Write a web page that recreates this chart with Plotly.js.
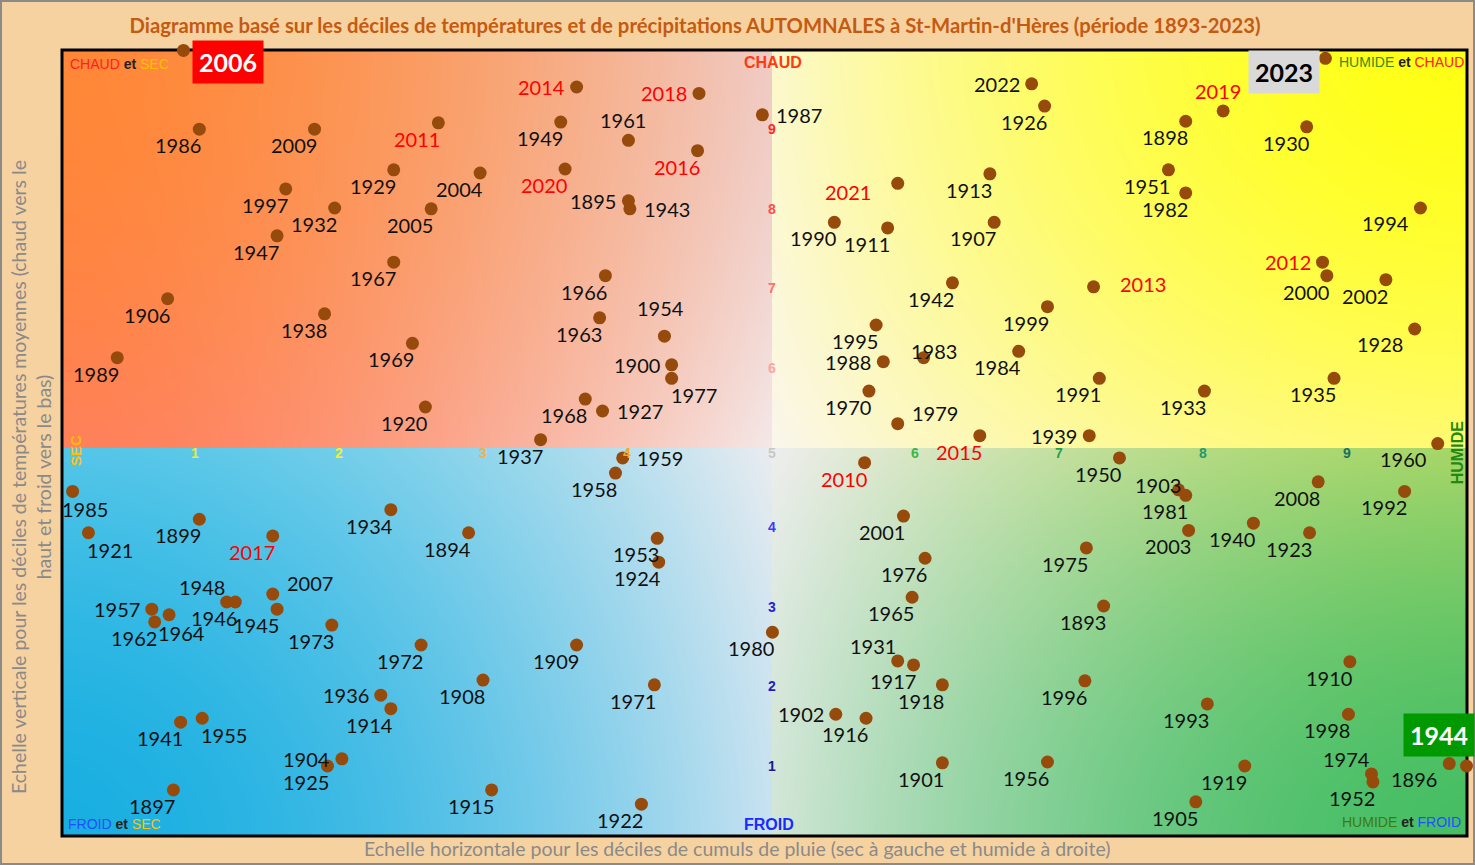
<!DOCTYPE html>
<html>
<head>
<meta charset="utf-8">
<script src="https://cdn.plot.ly/plotly-3.0.1.min.js"></script>
<style>
  html, body { margin: 0; padding: 0; background: #f6d2a0; }
  #chart { width: 1475px; height: 865px; }
</style>
</head>
<body>
<div id="chart"></div>
<script>
// années et déciles (pluie = horizontal, température = vertical)
var years = [1893,1894,1895,1896,1897,1898,1899,1900,1901,1902,1903,1904,1905,1906,1907,1908,1909,1910,1911,1912,
  1913,1914,1915,1916,1917,1918,1919,1920,1921,1922,1923,1924,1925,1926,1927,1928,1929,1930,1931,1932,
  1933,1934,1935,1936,1937,1938,1939,1940,1941,1942,1943,1944,1945,1946,1947,1948,1949,1950,1951,1952,
  1953,1954,1955,1956,1957,1958,1959,1960,1961,1962,1963,1964,1965,1966,1967,1968,1969,1970,1971,1972,
  1973,1974,1975,1976,1977,1978,1979,1980,1981,1982,1983,1984,1985,1986,1987,1988,1989,1990,1991,1992,
  1993,1994,1995,1996,1997,1998,1999,2000,2001,2002,2003,2004,2005,2006,2007,2008,2009,2010,2011,2012,
  2013,2014,2015,2016,2017,2018,2019,2020,2021,2022,2023];

var rainDecile = [7.31,2.90,4.01,9.71,0.85,7.88,1.03,4.31,6.19,5.45,7.83,2.02,7.95,0.81,6.55,3.00,3.65,9.02,5.81,3.74,
  6.52,2.36,3.06,5.66,5.99,6.19,8.29,2.60,0.26,4.10,8.74,4.22,1.92,6.90,3.83,9.47,2.38,8.72,5.88,1.97,
  8.01,2.36,8.91,2.29,3.40,1.90,7.21,8.35,0.90,6.26,4.02,9.83,1.57,1.28,1.57,1.22,3.54,7.42,7.76,9.18,
  4.21,4.26,1.05,6.92,0.70,3.92,3.97,9.63,4.01,0.72,3.81,0.82,5.98,3.85,2.38,3.71,2.51,5.68,4.19,2.57,
  1.95,9.17,7.19,6.07,4.31,0.07,5.88,5.01,7.88,7.88,6.06,6.72,0.15,1.03,4.94,5.78,0.46,5.44,7.28,9.40,
  8.03,9.51,5.73,7.18,1.63,9.01,6.92,8.86,5.92,9.27,7.90,2.98,2.64,0.92,1.54,8.80,1.83,5.65,2.69,8.83,
  7.24,3.65,6.45,4.49,1.54,4.50,8.14,3.57,5.88,6.81,8.85];

var tempDecile = [3.01,3.93,8.10,1.03,0.70,9.10,4.10,6.04,1.04,1.65,4.47,1.09,0.55,6.87,7.83,2.08,2.52,2.31,7.76,0.10,
  8.44,1.72,0.70,1.60,2.27,2.02,1.00,5.51,3.93,0.52,3.93,3.56,1.00,9.29,5.46,6.49,8.49,9.03,2.32,8.01,
  5.71,4.22,5.87,1.89,5.10,6.68,5.15,4.05,1.55,7.07,8.00,1.00,2.97,3.06,7.66,3.06,9.09,4.87,8.49,0.80,
  3.86,6.40,1.60,1.05,2.97,4.68,4.87,5.05,8.86,2.81,6.63,2.90,3.12,7.16,7.33,5.61,6.31,5.71,2.02,2.52,
  2.77,0.90,3.74,3.61,5.87,1.14,5.30,2.68,4.40,8.20,6.13,6.21,4.45,9.00,9.18,6.08,6.13,7.83,5.87,4.45,
  1.78,8.01,6.54,2.07,8.25,1.65,6.77,7.16,4.14,7.11,3.96,8.45,8.00,9.99,3.16,4.57,9.00,4.81,9.08,7.33,
  7.02,9.53,5.15,8.73,3.89,9.45,9.23,8.50,8.32,9.57,9.89];

// position de l'étiquette par rapport au point
var labelPos = ['bl','bl','l','bL','bl','bl','bl','l','bl','l','lc','l','bl','bl','bl','bl','bl','bl','bl','box',
  'bl','bl','bl','bl','bl','bl','bl','bl','br','bl','bl','bl','bl','bl','r','bL','bl','bl','tl','bl',
  'bl','bl','bl','l','bl','bl','l','bl','bl','bl','r','box','bl','bl','bl','tl','bl','bl','bl','bl',
  'bl','T','br','bl','l','bl','r','bL','t','bl','bl','b','bl','bl','bl','bl','bl','bl','bl','bl',
  'bl','tl','bl','bl','br','box','tr','bl','bl','bl','c','bl','b','bl','r','l','bl','bl','bl','bl',
  'bl','bL','bl','bl','bl','bl','bl','bl','bl','bl','bl','bl','bl','box','tr','bl','bl','bl','bl','l',
  'R','l','bl','bl','bl','l','t','bl','L','l','box'];

var decileTicks = [1,2,3,4,5,6,7,8,9];
var rainTickColors = ['#e8e84a','#f0f030','#f7b043','#f5a623','#c8c8c8','#3cb54a','#22a04f','#1e9a6a','#1b7060'];
var tempTickColors = ['#1a1a8c','#1d1dbf','#2424d6','#3a3aff','#c8c8c8','#ffa3a3','#ff6f6f','#ff4d4d','#ff2a2a'];

var offsets = {
  bl: [-21, 16], bL: [-35, 15], l: [-35, 0], L: [-50, 9], lc: [-21, -5],
  r: [37, 0], R: [49, -3], t: [-5, -20], T: [-4, -28], tl: [-25, -15], tr: [37, -11],
  br: [22, 17], b: [12, 18], c: [10, -7]
};

var boxes = {
  2006: {bg: '#ff0000', fg: '#ffffff', dx: 45, dy: 12},
  2023: {bg: '#d9d9d9', fg: '#000000', dx: -41, dy: 14},
  1978: {bg: '#ffff00', fg: '#000000', dx: 31, dy: -28},
  1912: {bg: '#0000ff', fg: '#ffffff', dx: -35, dy: -26},
  1944: {bg: '#009900', fg: '#ffffff', dx: -28, dy: -31}
};

var xRange = [0.0764, 9.8333];
var yRange = [0.1206, 9.995];
var plotW = 1405, plotH = 786;

// fond en quatre quadrants dégradés
var quad = {
  TL: {c: [244,232,232], h: [255,128,90],  v: [240,203,196], k: [255,135,55]},
  TR: {c: [250,246,236], h: [255,250,115], v: [252,248,205], k: [255,255,20]},
  BL: {c: [234,236,240], h: [85,198,232],  v: [200,226,240], k: [25,175,225]},
  BR: {c: [238,238,238], h: [168,214,105], v: [210,230,215], k: [70,190,100]}
};

function ease(t) { return 1 - Math.pow(1 - t, 1.7); }

function makeBackground() {
  var cv = document.createElement('canvas');
  cv.width = plotW; cv.height = plotH;
  var ctx = cv.getContext('2d');
  var img = ctx.createImageData(plotW, plotH);
  var cx = (5 - xRange[0]) / (xRange[1] - xRange[0]) * plotW;
  var cy = (yRange[1] - 5) / (yRange[1] - yRange[0]) * plotH;
  for (var j = 0; j < plotH; j++) {
    for (var i = 0; i < plotW; i++) {
      var top = j < cy, left = i < cx;
      var q = top ? (left ? quad.TL : quad.TR) : (left ? quad.BL : quad.BR);
      var u = ease(left ? (cx - i) / cx : (i - cx) / (plotW - cx));
      var v = ease(top ? (cy - j) / cy : (j - cy) / (plotH - cy));
      var p = (j * plotW + i) * 4;
      for (var n = 0; n < 3; n++) {
        var a = q.c[n] + (q.h[n] - q.c[n]) * u;
        var b = q.v[n] + (q.k[n] - q.v[n]) * u;
        img.data[p + n] = a + (b - a) * v;
      }
      img.data[p + 3] = 255;
    }
  }
  ctx.putImageData(img, 0, 0);
  return cv.toDataURL('image/png');
}

var annotations = [];

years.forEach(function(yr, i) {
  if (labelPos[i] === 'box') {
    var bx = boxes[yr];
    annotations.push({
      x: rainDecile[i], y: tempDecile[i], xref: 'x', yref: 'y',
      text: '<b>' + yr + '</b>', showarrow: false,
      xanchor: 'center', yanchor: 'middle',
      xshift: bx.dx, yshift: -bx.dy, width: 68, height: 40,
      bgcolor: bx.bg, font: {family: 'Lato', size: 25, color: bx.fg}
    });
    return;
  }
  var off = offsets[labelPos[i]];
  annotations.push({
    x: rainDecile[i], y: tempDecile[i], xref: 'x', yref: 'y',
    text: String(yr), showarrow: false,
    xanchor: 'center', yanchor: 'middle',
    xshift: off[0], yshift: -off[1],
    font: {family: 'Lato', size: 20, color: yr >= 2010 && yr <= 2021 ? '#ff0000' : '#111111'}
  });
});

// déciles le long des axes médians
decileTicks.forEach(function(d, i) {
  if (d !== 5) {
    annotations.push({
      x: d, y: 5, xref: 'x', yref: 'y', text: '<b>' + d + '</b>', showarrow: false,
      xanchor: 'center', yanchor: 'middle',
      yshift: -5, font: {family: 'Liberation Sans', size: 14, color: rainTickColors[i]}
    });
  }
  annotations.push({
    x: 5, y: d, xref: 'x', yref: 'y', text: '<b>' + d + '</b>', showarrow: false,
    xanchor: 'center', yanchor: 'middle',
    xshift: 1, yshift: d === 5 ? -5 : 0,
    font: {family: 'Liberation Sans', size: 14, color: tempTickColors[i]}
  });
});

var cornerFont = {family: 'Liberation Sans', size: 14};
function paperNote(x, y, xa, text, font, angle) {
  return {xref: 'paper', yref: 'paper', x: x, y: y, xanchor: xa, yanchor: 'middle',
          showarrow: false, text: text, font: font, textangle: angle || 0};
}
annotations.push(
  paperNote(0.0043, 0.982, 'left', '<span style="color:#ff2020">CHAUD</span> <b><span style="color:#222">et</span></b> <span style="color:#ffc000">SEC</span>', cornerFont),
  paperNote(0.9075, 0.9847, 'left', '<span style="color:#3d8a10">HUMIDE</span> <b><span style="color:#222">et</span></b> <span style="color:#ff2020">CHAUD</span>', cornerFont),
  paperNote(0.0029, 0.0153, 'left', '<span style="color:#1f4fff">FROID</span> <b><span style="color:#222">et</span></b> <span style="color:#ffc000">SEC</span>', cornerFont),
  paperNote(0.9972, 0.0178, 'right', '<span style="color:#3d7a10">HUMIDE</span> <b><span style="color:#222">et</span></b> <span style="color:#1f4fff">FROID</span>', cornerFont),
  paperNote(0.506, 0.9847, 'center', '<b>CHAUD</b>', {family: 'Liberation Sans', size: 16, color: '#ff3a10'}),
  paperNote(0.503, 0.014, 'center', '<b>FROID</b>', {family: 'Liberation Sans', size: 16, color: '#1a2aff'}),
  paperNote(0.0092, 0.491, 'center', '<b>SEC</b>', {family: 'Liberation Sans', size: 15, color: '#ffc000'}, -90),
  paperNote(0.9929, 0.487, 'center', '<b>HUMIDE</b>', {family: 'Liberation Sans', size: 16, color: '#1f8a10'}, -90),
  // titres des axes
  paperNote(-0.0221, 0.4567, 'center',
    'Echelle verticale pour les déciles de températures moyennes (chaud vers le<br>haut et froid vers le bas)',
    {family: 'Lato', size: 19.5, color: '#8a8a8a'}, -90),
  paperNote(0.4811, -0.0153, 'center',
    'Echelle horizontale pour les déciles de cumuls de pluie (sec à gauche et humide à droite)',
    {family: 'Lato', size: 19.5, color: '#8a8a8a'})
);

var trace = {
  type: 'scatter', mode: 'markers',
  x: rainDecile, y: tempDecile, text: years,
  hoverinfo: 'text', cliponaxis: false,
  marker: {size: 13, color: '#964b0c'}
};

var layout = {
  width: 1475, height: 865,
  margin: {l: 62, r: 8, t: 50, b: 29},
  paper_bgcolor: '#f6d2a0',
  plot_bgcolor: 'rgba(0,0,0,0)',
  showlegend: false,
  title: {
    text: "<b>Diagramme basé sur les déciles de températures et de précipitations AUTOMNALES à St-Martin-d'Hères (période 1893-2023)</b>",
    x: 0.4712, y: 0.97, xanchor: 'center', yanchor: 'middle',
    font: {family: 'Lato', size: 20.3, color: '#c55a11'}
  },
  xaxis: {range: xRange, visible: false, fixedrange: true},
  yaxis: {range: yRange, visible: false, fixedrange: true},
  images: [{
    source: makeBackground(), xref: 'paper', yref: 'paper',
    x: 0, y: 1, sizex: 1, sizey: 1, sizing: 'stretch', layer: 'below'
  }],
  shapes: [
    {type: 'rect', xref: 'paper', yref: 'paper', x0: 0, x1: 1, y0: 0, y1: 1,
     line: {color: '#000000', width: 3}, layer: 'below'},
    {type: 'rect', xref: 'paper', yref: 'paper', x0: -0.0434, x1: 1.0050, y0: -0.0356, y1: 1.0623,
     line: {color: '#8a8a8a', width: 2}, layer: 'below'}
  ],
  annotations: annotations
};

Plotly.newPlot('chart', [trace], layout, {displayModeBar: false});
</script>
</body>
</html>
